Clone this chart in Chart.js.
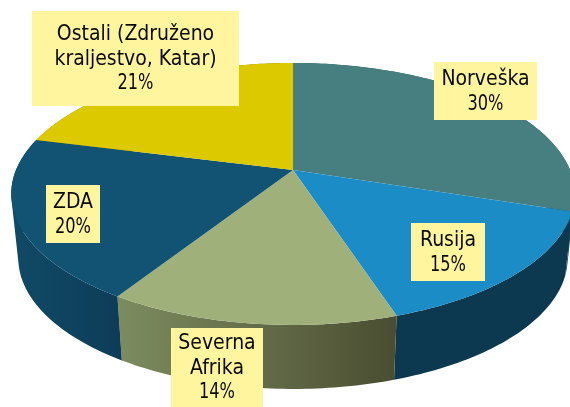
<!DOCTYPE html>
<html>
<head>
<meta charset="utf-8">
<style>
    html, body { margin: 0; padding: 0; background: #fff; }
    canvas { display: block; }
</style>
</head>
<body>
<canvas id="gasChart" width="570" height="407"></canvas>
<script src="https://cdn.jsdelivr.net/npm/chart.js@4"></script>
<script>
// Data
const categories = ['Norveška', 'Rusija', 'Severna Afrika', 'ZDA', 'Ostali (Združeno kraljestvo, Katar)'];
const shares = [30, 15, 14, 20, 21];
const topColors = ['#477f80', '#1c8cc6', '#a0b07a', '#125272', '#dcc900'];
const sideLeftColors = ['#2f5a5c', '#0c394f', '#7d8c60', '#104a66', '#8f8400'];
const sideRightColors = ['#2a5153', '#0c394f', '#4a4d31', '#0d3c58', '#7d7300'];
const labelLines = [['Norveška'], ['Rusija'], ['Severna', 'Afrika'], ['ZDA'], ['Ostali (Združeno', 'kraljestvo, Katar)']];

// Label boxes: x, y, w, h
const labelBoxes = [
    [434, 62, 103, 58],
    [411, 223, 74, 58],
    [171, 328, 92, 79],
    [46, 185, 54, 58],
    [32, 11, 207, 95]
];

// Perspective of the disc
const apexX = 293, apexY = 170, radiusX = 277, radiusY = 126.6, tilt = 0.183;
const depth = 64, bottomShrink = 0.975;

function project(angle, bottom) {
    const u = Math.cos(angle), v = Math.sin(angle);
    const w = 1 - tilt * v;
    const x = radiusX * u / w, y = radiusY * v / w;
    if (bottom) return [apexX + x * bottomShrink, apexY + y + depth];
    return [apexX + x, apexY + y];
}

function edgePoints(arc, bottom) {
    const pts = [];
    const steps = Math.ceil((arc.endAngle - arc.startAngle) * 180 / Math.PI);
    for (let i = 0; i <= steps; i++) {
        pts.push(project(arc.startAngle + (arc.endAngle - arc.startAngle) * i / steps, bottom));
    }
    return pts;
}

function signedArea(quad) {
    let sum = 0;
    quad.forEach((p, i) => {
        const q = quad[(i + 1) % quad.length];
        sum += p[0] * q[1] - q[0] * p[1];
    });
    return sum;
}

const pie3d = {
    id: 'pie3d',
    beforeDatasetsDraw(chart) {
        const ctx = chart.ctx;
        const arcs = chart.getDatasetMeta(0).data;

        // Rim first, the top of the disc hides whatever is at the back
        arcs.forEach((arc, i) => {
            const top = edgePoints(arc, false);
            const bottom = edgePoints(arc, true);
            const xs = top.concat(bottom).map(p => p[0]);
            const grad = ctx.createLinearGradient(Math.min(...xs), 0, Math.max(...xs), 0);
            grad.addColorStop(0, sideLeftColors[i]);
            grad.addColorStop(1, sideRightColors[i]);
            // one quad per step in one path, all wound the same way so overlaps at the fold stay filled
            ctx.beginPath();
            for (let n = 0; n < top.length - 1; n++) {
                const quad = [top[n], top[n + 1], bottom[n + 1], bottom[n]];
                if (signedArea(quad) < 0) quad.reverse();
                ctx.moveTo(quad[0][0], quad[0][1]);
                quad.slice(1).forEach(p => ctx.lineTo(p[0], p[1]));
                ctx.closePath();
            }
            ctx.fillStyle = grad;
            ctx.fill();
        });

        arcs.forEach((arc, i) => {
            ctx.beginPath();
            ctx.moveTo(apexX, apexY);
            edgePoints(arc, false).forEach(p => ctx.lineTo(p[0], p[1]));
            ctx.closePath();
            ctx.fillStyle = topColors[i];
            ctx.fill();
        });
        return false;
    },
    afterDraw(chart) {
        const ctx = chart.ctx;
        ctx.font = '21px "DejaVu Sans Condensed", "DejaVu Sans"';
        ctx.textAlign = 'center';
        ctx.textBaseline = 'middle';
        labelBoxes.forEach((box, i) => {
            ctx.fillStyle = '#fff59f';
            ctx.fillRect(box[0], box[1], box[2], box[3]);
            ctx.fillStyle = '#0a0a0a';
            const lines = labelLines[i];
            const cx = box[0] + box[2] / 2;
            const first = box[1] + box[3] / 2 + 1 - lines.length * 12.25;
            lines.forEach((line, n) => ctx.fillText(line, cx, first + n * 24.5));
            ctx.fillText(shares[i] + '%', cx, first + lines.length * 24.5, 36);
        });
    }
};

new Chart(document.getElementById('gasChart').getContext('2d'), {
    type: 'pie',
    data: {
        labels: categories,
        datasets: [{
            data: shares,
            backgroundColor: topColors,
            borderWidth: 0
        }]
    },
    options: {
        responsive: false,
        animation: false,
        plugins: {
            legend: { display: false },
            tooltip: { enabled: false }
        }
    },
    plugins: [pie3d]
});
</script>
</body>
</html>
